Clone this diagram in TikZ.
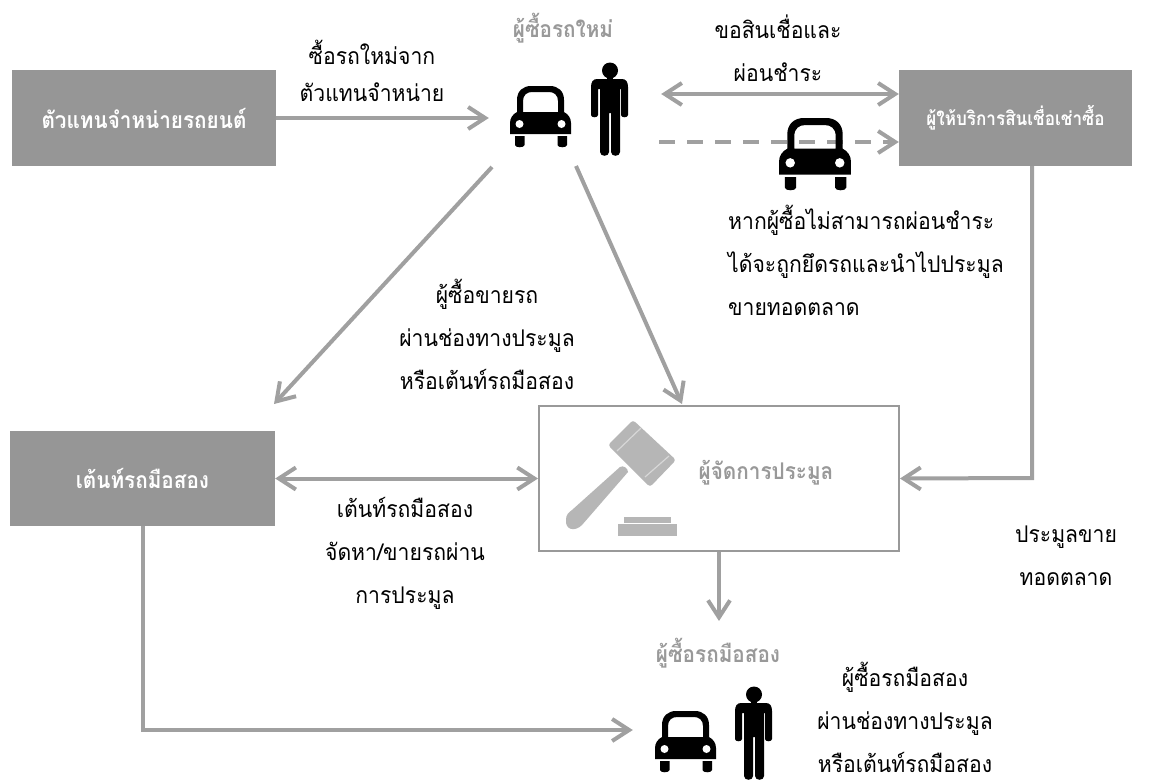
\documentclass[tikz,border=0pt]{standalone}
\usepackage{fontspec}
\usetikzlibrary{arrows.meta}
\newfontfamily\thaifn[Script=Thai,FakeStretch=0.92]{Loma}
\newfontfamily\thaifb[Script=Thai,FakeStretch=0.90,BoldFont={Loma Bold}]{Loma}
\definecolor{boxgray}{HTML}{969696}
\definecolor{linegray}{HTML}{A0A0A0}
\definecolor{labelgray}{HTML}{999999}
\definecolor{gavelgray}{HTML}{B6B6B6}
\tikzset{
  x=1pt,y=-1pt,
  flow/.style={draw=linegray,line width=4pt,-{Straight Barb[length=17pt,width=22pt,line width=4pt]}},
  flowboth/.style={draw=linegray,line width=4pt,{Straight Barb[length=17pt,width=22pt,line width=4pt]}-{Straight Barb[length=17pt,width=22pt,line width=4pt]}},
  flowdash/.style={flow,dash pattern=on 16pt off 12pt},
  actor/.style={fill=boxgray,text=white,font=\thaifb\bfseries\fontsize{23}{28}\selectfont,inner sep=0pt,align=center},
  note/.style={font=\thaifn\fontsize{23}{43}\selectfont,text=black,inner sep=0pt,align=center,anchor=center},
  noteleft/.style={note,align=left,anchor=west},
  grayhead/.style={font=\thaifb\bfseries\fontsize{23}{28}\selectfont,text=labelgray,inner sep=0pt},
  pics/carpic/.style={code={
    \fill[black,even odd rule]
      (7,26) -- (7,14) .. controls (7,5) and (13,0) .. (21,0) -- (40,0) .. controls (48,0) and (54,5) .. (54,14) -- (54,26)
      .. controls (58,28) and (61,32) .. (61,37) -- (61,48) -- (0,48) -- (0,37) .. controls (0,32) and (3,28) .. (7,26) -- cycle
      (13,26) -- (48,26) -- (48,15) .. controls (48,9) and (44,6) .. (39,6) -- (22,6) .. controls (17,6) and (13,9) .. (13,15) -- cycle;
    \fill[white] (9.5,38) circle[radius=4] (51.5,38) circle[radius=4];
    \fill[black] (5,50) -- (14.5,50) -- (14.5,59) .. controls (14.5,62) and (5,62) .. (5,59) -- cycle
                 (47.5,50) -- (57,50) -- (57,59) .. controls (57,62) and (47.5,62) .. (47.5,59) -- cycle;
  }},
  pics/personpic/.style={code={
    \fill[black] (19,7.5) circle[radius=8];
    \fill[black] (16,14) rectangle (22,18);
    \fill[black]
      (6,16) -- (31,16) .. controls (35,16) and (37,19) .. (37,24) -- (37,52) .. controls (37,55) and (30,55) .. (30,52)
      -- (30,26) -- (29,26) -- (29,89) .. controls (29,94) and (20,94) .. (20,89) -- (20,50) -- (18,50)
      -- (18,89) .. controls (18,94) and (9,94) .. (9,89) -- (9,26) -- (7,26) -- (7,52)
      .. controls (7,55) and (0,55) .. (0,52) -- (0,24) .. controls (0,19) and (2,16) .. (6,16) -- cycle;
  }}
}
\begin{document}
\begin{tikzpicture}
\useasboundingbox (0,0) rectangle (1160,780);

% actors
\node[actor,minimum width=264pt,minimum height=96pt] (dealer) at (144,118) {ตัวแทนจำหน่ายรถยนต์};
\node[actor,minimum width=233pt,minimum height=96pt,font=\thaifb\bfseries\fontsize{19}{24}\selectfont] (lease) at (1015.5,118) {ผู้ให้บริการสินเชื่อเช่าซื้อ};
\node[actor,minimum width=265pt,minimum height=95pt] (usedd) at (142.5,478.5) {เต้นท์รถมือสอง};
\node[draw=labelgray,line width=2pt,fill=white,minimum width=360pt,minimum height=145pt,inner sep=0pt] (auction) at (719,478.5) {};

% invisible group areas
\node[inner sep=0pt,minimum width=172pt,minimum height=104pt] (buyer) at (575,118) {};
\node[inner sep=0pt,minimum width=140pt,minimum height=100pt] (usedb) at (703,730) {};
\coordinate (buyerSW) at (492,167);
\coordinate (buyerSE) at (576,166);
\coordinate (dealerT) at (274,404);
\coordinate (auctionT) at (682,404);
\coordinate (usedOut) at (143,526);
\coordinate (usedCorner) at (143,730);
\coordinate (leaseOut) at (1032,166);
\coordinate (leaseCorner) at (1032,478);
\coordinate (usedbTop) at (719,621);

% connectors
\draw[flow] (dealer.east) -- (buyer.west);
\draw[flowboth] (buyer.east |- 0,94) -- (lease.west |- 0,94);
\draw[flowdash] (659,142) -- (lease.west |- 0,142);
\draw[flow] (buyerSW) -- (dealerT);
\draw[flow] (buyerSE) -- (auctionT);
\draw[flowboth] (usedd.east) -- (auction.west);
\draw[flow] (leaseOut) -- (leaseCorner) -- (auction.east);
\draw[flow] (auction.south) -- (usedbTop);
\draw[flow] (usedOut) -- (usedCorner) -- (usedb.west);

% icons
\pic at (510,86) {carpic};
\pic at (591,63) {personpic};
\pic[scale=1.18] at (779,118) {carpic};
\pic at (655,711) {carpic};
\pic at (735,687) {personpic};

% gavel
\fill[gavelgray,rounded corners=3pt] (633,420) -- (676,460) -- (650,487) -- (608,445) -- cycle;
\draw[white!45!gavelgray,line width=1.2pt] (617,451) -- (641,428);
\draw[white!45!gavelgray,line width=1.2pt] (645,477) -- (669,456);
\fill[gavelgray] (620,467) .. controls (623,465) and (628,468) .. (628,472) -- (582,525) .. controls (575,532) and (565,530) .. (566,520) .. controls (566,515) and (568,513) .. (572,510) -- cycle;
\fill[gavelgray] (624,517) rectangle (671,523);
\fill[gavelgray] (618,524) rectangle (677,536);

% labels
\node[grayhead] (tBuyer) at (563,28) {ผู้ซื้อรถใหม่};
\node[grayhead] (tUsedB) at (718,653) {ผู้ซื้อรถมือสอง};
\node[grayhead] (tAuction) at (766,473) {ผู้จัดการประมูล};
\node[note,font=\thaifn\fontsize{23}{37}\selectfont] (n1) at (372,71) {ซื้อรถใหม่จาก\\ตัวแทนจำหน่าย};
\node[note] (n2) at (778,48) {ขอสินเชื่อและ\\ผ่อนชำระ};
\node[noteleft] (n3) at (728,260) {หากผู้ซื้อไม่สามารถผ่อนชำระ\\ได้จะถูกยึดรถและนำไปประมูล\\ขายทอดตลาด};
\node[note] (n4) at (487,334) {ผู้ซื้อขายรถ\\ผ่านช่องทางประมูล\\หรือเต้นท์รถมือสอง};
\node[note] (n5) at (405,553) {เต้นท์รถมือสอง\\จัดหา/ขายรถผ่าน\\การประมูล};
\node[note] (n6) at (1066,556) {ประมูลขาย\\ทอดตลาด};
\node[note] (n7) at (905,717) {ผู้ซื้อรถมือสอง\\ผ่านช่องทางประมูล\\หรือเต้นท์รถมือสอง};
\end{tikzpicture}
\end{document}
